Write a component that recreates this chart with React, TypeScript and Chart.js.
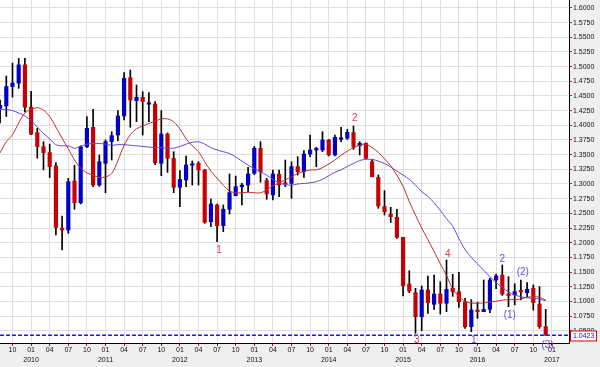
import React, { useEffect, useRef } from 'react';
import { Chart, registerables } from 'chart.js';
Chart.register(...registerables);

// Monthly EUR/USD candles, first candle = August 2009
const START_YEAR = 2009;
const START_MONTH = 8;

const open = [
  1.429, 1.433, 1.466, 1.472, 1.503, 1.431, 1.3875, 1.3636, 1.3534, 1.331,
  1.2245, 1.2216, 1.305, 1.268, 1.3636, 1.3966, 1.2983, 1.3353, 1.3722, 1.3835,
  1.4159, 1.4812, 1.442, 1.4478, 1.436, 1.4364, 1.3353, 1.3852, 1.3438, 1.2944,
  1.3068, 1.332, 1.3353, 1.3239, 1.2358, 1.2642, 1.2289, 1.2569, 1.2801, 1.2954,
  1.2983, 1.3183, 1.3609, 1.3057, 1.2813, 1.3165, 1.301, 1.3012, 1.3296, 1.321,
  1.3512, 1.358, 1.358, 1.375, 1.3495, 1.3762, 1.378, 1.3875, 1.3653, 1.3693,
  1.338, 1.3114, 1.2614, 1.2489, 1.2432, 1.2091, 1.1296, 1.1148, 1.0738, 1.1194,
  1.095, 1.1125, 1.0967, 1.1222, 1.1164, 1.0994, 1.0568, 1.0853, 1.0824, 1.0864,
  1.1364, 1.1449, 1.1125, 1.1108, 1.1175, 1.1148, 1.1222, 1.0955, 1.0568,
];
const high = [
  1.443, 1.484, 1.506, 1.514, 1.514, 1.458, 1.395, 1.372, 1.368, 1.3364,
  1.2455, 1.3097, 1.332, 1.365, 1.4147, 1.4273, 1.3494, 1.375, 1.3892, 1.425,
  1.4897, 1.4943, 1.4688, 1.4574, 1.4557, 1.4404, 1.425, 1.387, 1.355, 1.3227,
  1.3477, 1.3392, 1.338, 1.325, 1.2744, 1.2659, 1.2642, 1.3171, 1.3136, 1.3012,
  1.3284, 1.364, 1.3722, 1.3097, 1.3239, 1.3239, 1.3409, 1.338, 1.3466, 1.3568,
  1.3835, 1.3625, 1.3892, 1.376, 1.3835, 1.3966, 1.3932, 1.3989, 1.3722, 1.37,
  1.3415, 1.3154, 1.2886, 1.2602, 1.2569, 1.2091, 1.1522, 1.1222, 1.1262, 1.1432,
  1.1449, 1.1335, 1.1705, 1.146, 1.1495, 1.1052, 1.103, 1.0985, 1.1364, 1.1392,
  1.1465, 1.162, 1.142, 1.13, 1.1364, 1.1318, 1.128, 1.125, 1.0864,
];
const low = [
  1.404, 1.415, 1.448, 1.463, 1.423, 1.384, 1.344, 1.324, 1.311, 1.213,
  1.1875, 1.216, 1.257, 1.266, 1.362, 1.2954, 1.296, 1.2852, 1.3409, 1.3738,
  1.4091, 1.3967, 1.4062, 1.3835, 1.4062, 1.333, 1.3142, 1.3198, 1.2852, 1.2613,
  1.2954, 1.2983, 1.2983, 1.233, 1.2272, 1.2017, 1.2187, 1.2489, 1.2796, 1.2642,
  1.2869, 1.316, 1.303, 1.2739, 1.2727, 1.2784, 1.2954, 1.2756, 1.3154, 1.3114,
  1.3466, 1.3296, 1.355, 1.3478, 1.348, 1.3722, 1.376, 1.359, 1.3495, 1.343,
  1.312, 1.2586, 1.2472, 1.2341, 1.2074, 1.1091, 1.1148, 1.0455, 1.05, 1.0796,
  1.0864, 1.0784, 1.0824, 1.1085, 1.0895, 1.054, 1.0483, 1.071, 1.0824, 1.0807,
  1.1215, 1.11, 1.091, 1.094, 1.1023, 1.108, 1.085, 1.054, 1.042,
];
const close = [
  1.434, 1.466, 1.472, 1.503, 1.431, 1.385, 1.3636, 1.3534, 1.3296, 1.226,
  1.2216, 1.304, 1.268, 1.3636, 1.3949, 1.2983, 1.338, 1.3722, 1.3824, 1.4159,
  1.4801, 1.4432, 1.4478, 1.4403, 1.4372, 1.3363, 1.3852, 1.3438, 1.2944, 1.308,
  1.3324, 1.3341, 1.3239, 1.2347, 1.2659, 1.2289, 1.2569, 1.2852, 1.2954, 1.2983,
  1.3171, 1.3609, 1.321, 1.283, 1.3171, 1.2983, 1.2995, 1.3296, 1.321, 1.3512,
  1.358, 1.3597, 1.375, 1.3495, 1.3796, 1.378, 1.3881, 1.363, 1.3693, 1.3438,
  1.3125, 1.2625, 1.2528, 1.2443, 1.2091, 1.1267, 1.1177, 1.0738, 1.1194, 1.0977,
  1.1125, 1.0967, 1.1205, 1.1164, 1.0994, 1.0568, 1.0853, 1.0824, 1.0864, 1.1364,
  1.1432, 1.1125, 1.1097, 1.1164, 1.116, 1.1205, 1.0977, 1.0568, 1.0423,
];

// Moving averages (red = fast, purple = slow)
const maFast = [
  1.353, 1.372, 1.384, 1.404, 1.421, 1.427, 1.43, 1.426, 1.415, 1.397,
  1.378, 1.36, 1.341, 1.327, 1.319, 1.315, 1.311, 1.312, 1.318, 1.34,
  1.366, 1.384, 1.394, 1.399, 1.403, 1.407, 1.411, 1.411, 1.406, 1.394,
  1.377, 1.365, 1.355, 1.338, 1.322, 1.31, 1.298, 1.288, 1.285, 1.285,
  1.286, 1.285, 1.285, 1.29, 1.297, 1.302, 1.307, 1.312, 1.318, 1.321,
  1.324, 1.324, 1.328, 1.334, 1.341, 1.349, 1.356, 1.362, 1.366, 1.368,
  1.362, 1.354, 1.343, 1.331, 1.315, 1.296, 1.27, 1.247, 1.225, 1.205,
  1.185, 1.164, 1.144, 1.121, 1.108, 1.1, 1.097, 1.097, 1.097, 1.099,
  1.1, 1.102, 1.103, 1.103, 1.104, 1.107, 1.108, 1.107, 1.102,
];
const maSlow = [
  1.427, 1.427, 1.425, 1.421, 1.416, 1.408, 1.397, 1.386, 1.377, 1.367,
  1.365, 1.365, 1.361, 1.364, 1.368, 1.369, 1.369, 1.368, 1.366, 1.367,
  1.367, 1.366, 1.365, 1.364, 1.363, 1.362, 1.362, 1.361, 1.361, 1.364,
  1.368, 1.371, 1.372, 1.368, 1.362, 1.358, 1.355, 1.352, 1.346, 1.339,
  1.332, 1.326, 1.321, 1.315, 1.308, 1.302, 1.299, 1.298, 1.3, 1.301,
  1.302, 1.304, 1.308, 1.314, 1.32, 1.324, 1.33, 1.335, 1.34, 1.342,
  1.342, 1.339, 1.335, 1.329, 1.322, 1.315, 1.308, 1.298, 1.287, 1.279,
  1.268, 1.255, 1.241, 1.228, 1.207, 1.188, 1.175, 1.164, 1.153, 1.142,
  1.132, 1.124, 1.116, 1.111, 1.108, 1.106, 1.105, 1.104, 1.101,
];

const lastPrice = 1.0423;

const priceTicks = [
  1.05, 1.075, 1.1, 1.125, 1.15, 1.175, 1.2, 1.225, 1.25, 1.275, 1.3, 1.325,
  1.35, 1.375, 1.4, 1.425, 1.45, 1.475, 1.5, 1.525, 1.55, 1.575, 1.6,
];

// Elliott wave counts: text, month index, price level
const waveText = ['2', '1', '3', '4', '1', '2', '(1)', '(2)', '(3)'];
const waveMonth = [57.2, 35.3, 67.2, 72.2, 76.4, 81, 82.2, 84.3, 88.3];
const wavePrice = [1.412, 1.1875, 1.0341, 1.1807, 1.0333, 1.1717, 1.0767, 1.1488, 1.0256];
const waveDegree = ['major', 'major', 'major', 'major', 'minor', 'minor', 'minor', 'minor', 'minor'];

const FONT = '"Liberation Sans", Arial, sans-serif';

export default function App() {
  const ref = useRef<HTMLCanvasElement>(null);

  useEffect(() => {
    document.body.style.margin = '0';
    const canvas = ref.current;
    if (!canvas) return;

    const idx = open.map((_, i) => i);
    const xMin = -0.1 / 6.2;
    const xMax = 568.9 / 6.2;
    const quarterTicks = idx.concat([89, 90, 91]).filter((i) => (START_MONTH - 1 + i) % 3 === 0);

    const bg = {
      id: 'bg',
      beforeDraw(chart: any) {
        const { ctx, chartArea: a, width, height } = chart;
        ctx.save();
        ctx.fillStyle = '#efefef';
        ctx.fillRect(0, 0, width, height);
        ctx.fillStyle = '#ffffff';
        ctx.fillRect(a.left, a.top, a.right - a.left, a.bottom - a.top);
        ctx.restore();
      },
    };

    const overlay = {
      id: 'overlay',
      afterDraw(chart: any) {
        const { ctx, chartArea: a } = chart;
        const xs = chart.scales.x;
        const ys = chart.scales.y;
        ctx.save();
        // last price box
        const py = Math.round(ys.getPixelForValue(lastPrice)) + 0.5;
        ctx.fillStyle = '#ffffff';
        ctx.fillRect(a.right + 1.5, py - 4.5, 26, 10);
        ctx.strokeStyle = '#e00000';
        ctx.lineWidth = 1;
        ctx.strokeRect(a.right + 1.5, py - 4.5, 26, 10);
        ctx.fillStyle = '#1010d0';
        ctx.font = '7px ' + FONT;
        ctx.textAlign = 'left';
        ctx.textBaseline = 'middle';
        ctx.fillText(lastPrice.toFixed(4), a.right + 4, py + 0.5);
        // wave labels
        ctx.font = '10px ' + FONT;
        ctx.textAlign = 'center';
        waveText.forEach((t, k) => {
          ctx.fillStyle = waveDegree[k] === 'major' ? '#e8324e' : '#5a4ee0';
          ctx.fillText(t, xs.getPixelForValue(waveMonth[k]), ys.getPixelForValue(wavePrice[k]));
        });
        ctx.restore();
      },
    };

    const chart = new Chart(canvas, {
      type: 'bar',
      data: {
        datasets: [
          {
            type: 'line',
            label: 'last',
            data: [{ x: xMin, y: lastPrice }, { x: xMax, y: lastPrice }],
            borderColor: '#1a1aff',
            borderWidth: 1.5,
            borderDash: [4, 2],
            pointRadius: 0,
            order: 0,
          } as any,
          {
            type: 'line',
            label: 'fast MA',
            data: idx.map((i) => ({ x: i, y: maFast[i] })),
            borderColor: '#c03030',
            borderWidth: 1,
            pointRadius: 0,
            tension: 0.3,
            order: 1,
          } as any,
          {
            type: 'line',
            label: 'slow MA',
            data: idx.map((i) => ({ x: i, y: maSlow[i] })),
            borderColor: '#6448d8',
            borderWidth: 1,
            pointRadius: 0,
            tension: 0.3,
            order: 2,
          } as any,
          {
            label: 'body',
            data: idx.map((i) => ({ x: i, y: [open[i], close[i]] })),
            backgroundColor: idx.map((i) => (close[i] >= open[i] ? '#0000c8' : '#c80000')),
            borderWidth: 0,
            barThickness: 3.5,
            minBarLength: 1.5,
            grouped: false,
            order: 3,
          } as any,
          {
            label: 'wick',
            data: idx.map((i) => ({ x: i, y: [low[i], high[i]] })),
            backgroundColor: '#000000',
            borderWidth: 0,
            barThickness: 1,
            grouped: false,
            order: 4,
          } as any,
        ],
      },
      options: {
        responsive: false,
        animation: false,
        events: [],
        layout: { padding: 0 },
        plugins: { legend: { display: false }, tooltip: { enabled: false } },
        scales: {
          x: {
            type: 'linear',
            min: xMin,
            max: xMax,
            offset: false,
            grid: { color: '#dedede', lineWidth: 1, offset: false, tickLength: 3, tickColor: '#e00000' },
            border: { display: true, color: '#000000', width: 1 },
            afterBuildTicks: (s: any) => {
              s.ticks = quarterTicks.map((v) => ({ value: v }));
            },
            afterFit: (s: any) => {
              s.height = 24;
              s.paddingLeft = 0;
              s.paddingRight = 0;
            },
            ticks: {
              autoSkip: false,
              maxRotation: 0,
              padding: 0,
              color: '#111111',
              font: { family: FONT, size: 7, lineHeight: 1.3 },
              callback: (v: any) => {
                const n = START_MONTH - 1 + Number(v);
                const m = n % 12;
                const label = String(m + 1).padStart(2, '0');
                return m === 0 ? [label, String(START_YEAR + Math.floor(n / 12))] : label;
              },
            },
          },
          y: {
            type: 'linear',
            position: 'right',
            min: 1.029,
            max: 1.6136,
            grid: { color: '#dedede', lineWidth: 1, tickLength: 3, tickColor: '#e00000' },
            border: { display: true, color: '#000000', width: 1 },
            afterBuildTicks: (s: any) => {
              s.ticks = priceTicks.map((v) => ({ value: v }));
            },
            afterFit: (s: any) => {
              s.width = 31;
              s.paddingTop = 0;
              s.paddingBottom = 0;
            },
            ticks: {
              padding: 1,
              color: '#111111',
              font: { family: FONT, size: 7 },
              callback: (v: any) => Number(v).toFixed(4),
            },
          },
        },
      },
      plugins: [bg, overlay],
    } as any);

    return () => chart.destroy();
  }, []);

  return (
    <div style={{ position: 'fixed', left: 0, top: 0, width: 600, height: 367 }}>
      <canvas ref={ref} width={600} height={367} style={{ display: 'block' }} />
    </div>
  );
}
